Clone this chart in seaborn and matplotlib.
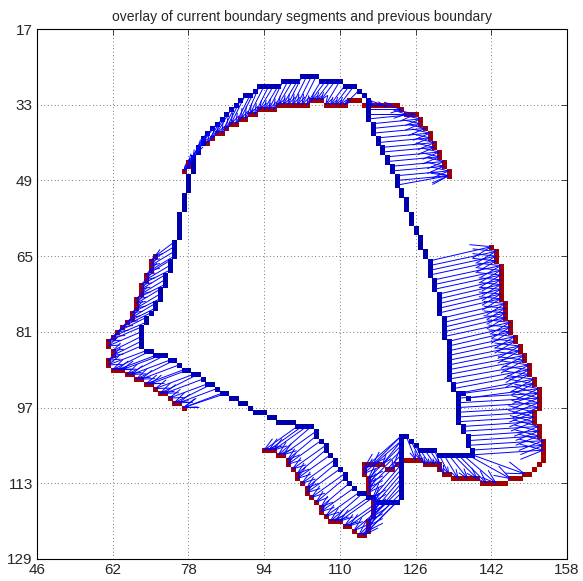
import numpy as np
import pandas as pd
import matplotlib
matplotlib.use("Agg")
import matplotlib.pyplot as plt
from matplotlib.collections import LineCollection
import seaborn as sns

# current boundary pixels (col, row)
blue_arc = [(79,47),(79,46),(79,45),(79,44),(80,43),(80,42),(81,41),(81,40),(82,39),(83,38),(84,37),(85,36),
            (86,35),(87,34),(88,33),(89,32),(90,31),(91,31),(92,30),(93,29),(94,29),(95,29),(96,29),(97,29),
            (98,28),(99,28),(100,28),(101,28),(102,27),(103,27),(104,27),(105,27),(106,28),(107,28),(108,28),
            (109,28),(110,28),(111,29),(112,29),(113,29),(114,30),(115,31)]
blue_right = [(116,32),(116,33),(116,34),(116,35),(116,36),(117,37),(117,38),(117,39),(118,40),(118,41),
              (119,42),(119,43),(120,44),(120,45),(121,46),(121,47),(122,48),(122,49),(122,50),(123,51),
              (123,52),(124,53),(124,54),(124,55),(125,56),(125,57),(125,58),(126,59),(126,60),(127,61),
              (127,62),(127,63),(128,64),(128,65),(129,66),(129,67),(129,68),(129,69),(130,70),(130,71),
              (130,72),(131,73),(131,74),(131,75),(131,76),(131,77),(132,78),(132,79),(132,80),(132,81),
              (132,82),(133,83),(133,84),(133,85),(133,86),(133,87),(133,88),(133,89),(133,90),(133,91),
              (134,92),(134,93),(135,94),(136,94),(137,95),(135,95),(135,96),(135,97),(135,98),(135,99),
              (135,100),(136,101),(136,102),(137,103),(137,104),(137,105),(138,106),(138,107)]
blue_bottom = [(137,107),(136,107),(135,107),(134,107),(133,107),(132,107),(131,107),(130,106),(129,106),
               (128,106),(127,106),(126,105),(125,104),(124,103),(123,103),(123,104),(123,105),(123,106),
               (123,107),(123,108),(123,109),(123,110),(123,111),(123,112),(123,113),(123,114),(123,115),
               (123,116),(122,117),(121,117),(120,117),(119,117),(118,117),(117,116),(116,116),(115,115),
               (114,115),(113,114),(112,113),(111,112),(111,111),(110,110),(109,109),(109,108),(108,107),
               (107,106),(107,105),(106,104),(105,103),(105,102),(104,101),(103,101),(102,101),(101,101),
               (100,100),(99,100),(98,100),(97,100),(96,99),(95,99),(94,98),(93,98),(92,98),(91,97),(90,96),
               (89,96),(88,95),(87,95),(86,94),(85,94),(84,93),(83,92),(82,92),(81,91),(80,90),(79,90),
               (78,89),(77,89),(76,88),(75,87),(74,87),(73,86),(72,86),(71,86),(70,85),(69,85)]
blue_left = [(68,84),(68,83),(68,82),(68,81),(68,80),(69,79),(69,78),(70,77),(71,76),(71,75),(72,74),
             (72,73),(72,72),(73,71),(73,70),(73,69),(74,68),(74,67),(74,66),(75,65),(75,64),(75,63),
             (75,62),(76,61),(76,60),(76,59),(76,58),(76,57),(76,56),(77,55),(77,54),(77,53),(77,52),
             (78,51),(78,50),(78,49),(78,48)]

# previous boundary pixels that are visible
red_arc = [(77,47),(78,46),(78,45),(81,41),(82,41),(83,40),(84,39),(85,39),(86,38),(87,37),(88,37),(89,36),
           (90,36),(91,35),(92,35),(93,34),(94,34),(95,34),(96,34),(97,33),(98,33),(99,33),(100,33),(101,33),
           (102,33),(103,33),(104,32),(105,32),(106,32),(107,33),(108,33),(109,33),(110,33),(111,33),(112,32),
           (113,32),(114,32),(115,33),(117,33),(118,33),(119,33),(120,33),(121,33),(122,33),(123,34),(124,35),
           (125,35),(126,35),(127,36),(127,37),(128,38),(129,39),(129,40),(130,41),(130,42),(131,43),(131,44),
           (132,45),(132,46),(133,47),(133,48)]
red_right = [(142,63),(143,64),(143,65),(143,66),(144,67),(144,68),(144,69),(144,70),(144,71),(144,72),
             (144,73),(144,74),(145,75),(145,76),(145,77),(145,78),(146,79),(146,80),(146,81),(147,82),
             (147,83),(148,84),(148,85),(149,86),(149,87),(150,88),(150,89),(150,90),(151,91),(151,92),
             (152,93),(152,94),(152,95),(152,96),(152,97),(151,98),(151,99),(151,100),(152,101),(152,102),
             (152,103),(153,104),(153,105),(153,106),(153,107),(153,108),(152,109),(151,110),(150,111),
             (149,111),(148,112),(147,112),(146,112),(145,113),(144,113),(143,113),(142,113),(141,113),
             (140,113),(139,112),(138,112),(137,112),(136,112),(135,112),(134,112),(133,111),(132,111),
             (131,110),(131,109),(130,109),(129,109),(128,109),(127,108),(126,108),(125,108),(124,108)]
red_v = [(122,109),(121,110),(120,110),(119,109),(118,109),(117,109),(116,109),(115,109),(115,110),(115,111),
         (116,112),(116,113),(116,114),(116,115),(117,116),(117,117),(117,118),(117,119),(117,120),(116,121),
         (116,122),(116,123),(115,124),(114,124),(113,123),(112,122),(111,122),(110,121),(109,121),(108,121),
         (107,120),(106,119),(106,118),(105,117),(104,116),(103,115),(103,114),(102,113),(101,112),(101,111),
         (100,110),(99,109),(99,108),(98,107),(97,107),(96,106),(95,106),(94,106)]
red_left = [(71,65),(70,66),(70,67),(70,68),(69,69),(69,70),(68,71),(68,72),(68,73),(67,74),(67,75),(67,76),
            (66,77),(66,78),(65,79),(64,80),(63,81),(62,82),(61,83),(61,84),(62,85),(62,86),(61,87),(61,88),
            (62,89),(63,89),(64,89),(65,90),(66,90),(67,91),(68,91),(69,92),(70,92),(71,93),(72,94),(73,94),
            (74,95),(75,96),(76,96),(77,97)]

# displacement vectors: (x0, y0, x1, y1) from current to previous boundary
arrows_arc = [(79,44,77,47),(80,43,77,47),(80,42,78,46),(81,41,78,45),(81,40,79,44),(82,39,80,43),
              (83,38,80,42),(84,37,81,41),(85,36,82,41),(86,35,83,40),(87,34,84,39),(88,33,85,39),
              (89,32,86,38),(90,31,87,37),(91,31,88,37),(92,30,89,36),(93,29,90,36),(94,29,91,35),
              (95,29,92,35),(96,29,93,34),(97,29,94,34),(98,28,95,34),(99,28,96,34),(100,28,97,33),
              (101,28,98,33),(102,27,99,33),(103,27,100,33),(104,27,101,33),(105,27,102,33),(106,28,103,33),
              (107,28,104,32),(108,28,105,32),(109,28,106,32),(110,28,107,33),(111,29,108,33),(112,29,109,33),
              (113,29,110,33),(114,30,111,33)]
arrows_topright = [(115,31,117,33),(116,32,119,33),(116,33,121,33),(116,34,123,34),(116,35,124,35),
                   (116,36,126,35),(117,37,127,36),(117,38,127,37),(117,39,128,38),(118,40,129,39),
                   (118,41,129,40),(119,42,130,41),(119,43,130,42),(120,44,131,43),(120,45,131,44),
                   (121,46,132,45),(121,47,132,46),(122,48,133,47),(122,49,133,48),(122,50,133,48)]
arrows_right = [(129,66,142,63),(129,67,143,64),(129,68,143,65),(129,69,143,66),(130,70,144,67),
                (130,71,144,68),(130,72,144,69),(131,73,144,70),(131,74,144,71),(131,75,144,72),
                (131,76,144,73),(131,77,144,74),(132,78,145,75),(132,79,145,76),(132,80,145,77),
                (132,81,145,78),(132,82,146,79),(133,83,146,80),(133,84,146,81),(133,85,147,82),
                (133,86,147,83),(133,87,148,84),(133,88,148,85),(133,89,149,86),(133,90,149,87),
                (133,91,150,88),(134,92,150,89),(134,93,150,90),(135,94,151,91),(136,94,151,92),
                (137,95,152,93),(135,95,152,94),(135,96,152,95),(135,97,152,96),(135,98,152,97),
                (135,99,151,98),(135,100,151,99),(136,101,151,100),(136,102,152,101),(137,103,152,102),
                (137,104,152,103),(137,105,153,104),(138,106,153,105),(138,107,153,106)]
arrows_lowright = [(124,103,126,108),(125,104,127,108),(126,105,128,109),(127,106,129,109),(128,106,130,109),
                   (129,106,131,109),(130,106,132,111),(131,107,133,111),(132,107,135,112),(133,107,137,112),
                   (134,107,139,112),(135,107,141,113),(136,107,143,113),(137,107,146,112),(138,107,149,111)]
arrows_v = [(101,101,94,106),(102,101,95,106),(103,101,96,106),(104,101,97,107),(105,102,98,107),
            (105,103,99,108),(106,104,99,109),(107,105,100,110),(107,106,101,111),(108,107,101,112),
            (109,108,102,113),(109,109,103,114),(110,110,103,115),(111,111,104,116),(111,112,105,117),
            (112,113,106,118),(113,114,106,119),(114,115,107,120),(115,115,108,121),(116,116,109,121),
            (117,116,110,121),(118,117,111,122),(119,117,112,122),(120,117,113,123),(121,117,114,124),
            (122,117,115,124),(123,116,116,123),(123,115,116,122),(123,114,116,121),(123,113,117,120),
            (123,112,117,119),(123,111,117,118),(123,110,117,117),(123,109,117,116),(123,108,116,115),
            (123,107,116,114),(123,106,116,113),(123,105,116,112),(123,104,115,111),(123,103,115,110),
            (123,103,117,109),(123,104,119,109),(123,105,121,110)]
arrows_left = [(75,62,71,65),(75,63,70,66),(75,64,70,67),(75,65,70,68),(74,66,69,69),(74,67,69,70),
               (74,68,68,71),(73,69,68,72),(73,70,68,73),(73,71,67,74),(72,72,67,75),(72,73,67,76),
               (72,74,66,77),(71,75,66,78),(71,76,65,79),(70,77,64,80),(69,78,63,81),(69,79,62,82),
               (68,80,61,83),(68,81,61,84),(68,82,62,85),(68,83,62,86),(68,84,61,87),(69,85,61,88),
               (70,85,62,89),(71,86,63,89),(72,86,64,89),(73,86,65,90),(74,87,66,90),(75,87,67,91),
               (76,88,68,91),(77,89,69,92),(78,89,70,92),(79,90,71,93),(80,90,72,94),(81,91,73,94),
               (82,92,74,95),(83,92,75,96),(84,93,76,96),(85,94,77,97),(86,94,77,97)]

xticks = [46, 62, 78, 94, 110, 126, 142, 158]
yticks = [17, 33, 49, 65, 81, 97, 113, 129]

cur = pd.DataFrame(blue_arc + blue_right + blue_bottom + blue_left, columns=["x", "y"])
prev = pd.DataFrame(red_arc + red_right + red_v + red_left, columns=["x", "y"])
vec = pd.DataFrame(arrows_arc + arrows_topright + arrows_right + arrows_lowright + arrows_v + arrows_left,
                   columns=["x0", "y0", "x1", "y1"])

sns.set_style("white")
plt.rcParams['font.family'] = ['Liberation Sans', 'DejaVu Sans']

fig = plt.figure(figsize=(5.83, 5.81), dpi=100)
ax = fig.add_axes([0.0635, 0.038, 0.909, 0.912])

px = 3.6  # one image pixel, in points
sns.scatterplot(data=prev, x="x", y="y", marker="s", s=px**2, color="#a00000", linewidth=0, ax=ax, zorder=2)
sns.scatterplot(data=cur, x="x", y="y", marker="s", s=px**2, color="#0000a8", linewidth=0, ax=ax, zorder=3)

# quiver like arrows (shaft plus two barbs)
u = vec.x1 - vec.x0
v = vec.y1 - vec.y0
a, b = 0.33, 0.33
segs = []
for x0, y0, x1, y1, du, dv in zip(vec.x0, vec.y0, vec.x1, vec.y1, u, v):
    segs.append([(x0, y0), (x1, y1)])
    segs.append([(x1 - a * (du + b * dv), y1 - a * (dv - b * du)), (x1, y1),
                 (x1 - a * (du - b * dv), y1 - a * (dv + b * du))])
ax.add_collection(LineCollection(segs, colors="#0000ff", linewidths=0.7, zorder=4))

ax.set_xlim(46, 158)
ax.set_ylim(129, 17)
ax.set_xticks(xticks)
ax.set_yticks(yticks)
ax.set_xlabel("")
ax.set_ylabel("")
ax.grid(True, color="black", linestyle=(0, (1, 4)), linewidth=0.5)
ax.tick_params(direction="in", length=4, width=0.6, top=True, right=True, labelsize=11, pad=3)
for sp in ax.spines.values():
    sp.set_linewidth(0.8)
    sp.set_color("black")
ax.set_title("overlay of current boundary segments and previous boundary", fontsize=10, pad=6)

fig.savefig("out.png", dpi=100)
